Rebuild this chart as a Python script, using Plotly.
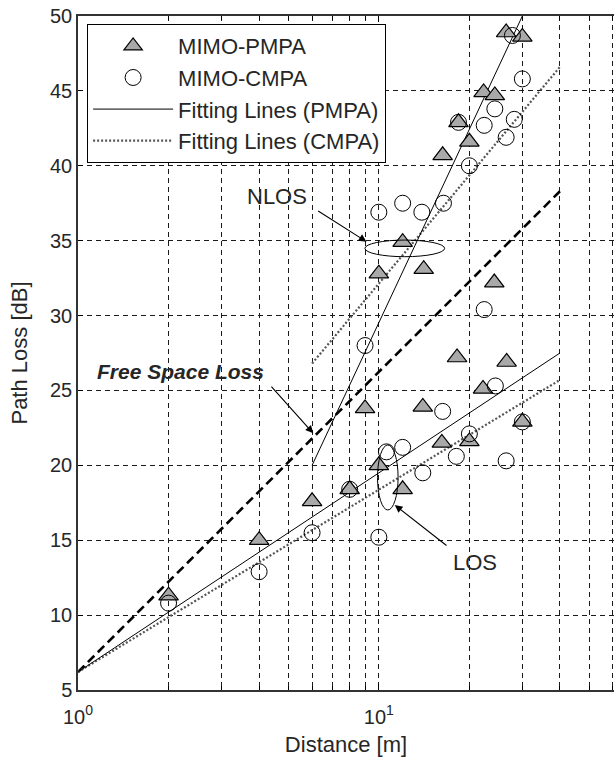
import plotly.graph_objects as go
import math

# ---------------- data ----------------
pmpa_d = [2, 4, 6, 8, 9, 10, 12, 14, 16.2, 20, 30,
          10, 12, 14.1, 16.3, 18.4, 20, 22.3, 24.3, 26.5, 30, 24.2, 18.2, 26.6, 22.2]
pmpa_pl = [11.3, 15.0, 17.6, 18.4, 23.8, 20.0, 18.4, 23.9, 21.5, 21.6, 22.9,
           32.8, 34.9, 33.1, 40.7, 42.9, 41.6, 44.9, 44.7, 48.9, 48.6, 32.2, 27.2, 26.9, 25.1]

cmpa_d = [2, 4, 6, 8, 10, 10.6, 12, 14, 16.3, 18.1, 20, 26.5, 30,
          9, 10, 12, 13.9, 16.4, 18.4, 20, 22.4, 24.3, 26.5, 28.2, 30, 27.8, 22.4, 24.4]
cmpa_pl = [10.8, 12.9, 15.5, 18.4, 15.2, 20.9, 21.2, 19.5, 23.6, 20.6, 22.1, 20.3, 22.9,
           28.0, 36.9, 37.5, 36.9, 37.5, 42.9, 40.0, 42.7, 43.8, 41.9, 43.1, 45.8, 48.7, 30.4, 25.3]

# fitting lines: LOS segment, then NLOS segment
fit_pmpa_d = [1, 40, None, 6, 30]
fit_pmpa_pl = [6.2, 27.5, None, 20.0, 50.0]
fit_cmpa_d = [1, 40, None, 6, 40]
fit_cmpa_pl = [6.2, 25.7, None, 26.8, 46.6]

fsl_d = [1, 40]
fsl_pl = [6.2, 38.3]

x_tickvals = [1, 10]
x_ticktext = ["10<sup>0</sup>", "10<sup>1</sup>"]
x_minor = [2, 3, 4, 5, 6, 7, 8, 9, 20, 30, 40, 50, 60]
y_tickvals = [5, 10, 15, 20, 25, 30, 35, 40, 45, 50]

FONT = "Liberation Sans, Arial, Helvetica, sans-serif"
TXT = "#262626"

fig = go.Figure()

fig.add_trace(go.Scatter(x=fsl_d, y=fsl_pl, mode="lines", showlegend=False,
                         line=dict(color="black", width=2.6, dash="9px,5px")))
fig.add_trace(go.Scatter(x=fit_cmpa_d, y=fit_cmpa_pl, mode="lines", name="Fitting Lines (CMPA)",
                         legendrank=4,
                         line=dict(color="#555555", width=2.2, dash="2px,2px")))
fig.add_trace(go.Scatter(x=fit_pmpa_d, y=fit_pmpa_pl, mode="lines", name="Fitting Lines (PMPA)",
                         legendrank=3,
                         line=dict(color="black", width=1)))
fig.add_trace(go.Scatter(x=pmpa_d, y=pmpa_pl, mode="markers", name="MIMO-PMPA",
                         legendrank=1,
                         marker=dict(symbol="triangle-up", size=17, color="#a9a9a9",
                                     line=dict(color="black", width=1.2))))
fig.add_trace(go.Scatter(x=cmpa_d, y=cmpa_pl, mode="markers", name="MIMO-CMPA",
                         legendrank=2,
                         marker=dict(symbol="circle-open", size=16, color="black",
                                     line=dict(color="black", width=1))))

L = math.log10
arrow = dict(showarrow=True, arrowhead=2, arrowsize=1.4, arrowwidth=1.1, arrowcolor="black",
             standoff=0, text="", axref="x", ayref="y")
fig.add_annotation(x=0.959, y=34.93, ax=0.7934, ay=37.04, **arrow)
fig.add_annotation(x=1.053, y=17.35, ax=1.2299, ay=14.57, **arrow)
fig.add_annotation(x=0.782, y=22.14, ax=0.6385, ay=25.36, **arrow)
fig.add_annotation(x=0.6627, y=37.93, text="NLOS", showarrow=False,
                   font=dict(family=FONT, size=22, color=TXT))
fig.add_annotation(x=1.3207, y=13.5, text="LOS", showarrow=False,
                   font=dict(family=FONT, size=22, color=TXT))
fig.add_annotation(x=0.34, y=26.25, text="<b><i>Free Space Loss</i></b>", showarrow=False,
                   font=dict(family=FONT, size=21, color=TXT))

fig.add_shape(type="circle", xref="x", yref="y", x0=8.99, x1=16.55, y0=33.93, y1=35.04,
              line=dict(color="black", width=1))
fig.add_shape(type="circle", xref="x", yref="y", x0=9.90, x1=11.59, y0=17.02, y1=21.36,
              line=dict(color="black", width=1))

grid = dict(showgrid=True, gridcolor="#1a1a1a", gridwidth=1, griddash="5px,4px")

fig.update_xaxes(type="log", range=[0, L(60.5)], tickmode="array", tickvals=x_tickvals,
                 ticktext=x_ticktext, ticks="inside", ticklen=6, tickcolor="black",
                 showline=True, linecolor="#333333", linewidth=1.5, mirror="allticks",
                 zeroline=False, ticklabelstandoff=8,
                 tickfont=dict(family=FONT, size=20, color=TXT),
                 title=dict(text="Distance [m]", font=dict(family=FONT, size=22, color=TXT), standoff=10),
                 minor=dict(tickvals=x_minor, ticks="inside", ticklen=4, tickcolor="black",
                            showgrid=True, gridcolor="#1a1a1a", gridwidth=1, griddash="5px,4px"),
                 **grid)
fig.update_yaxes(range=[5, 50], tickmode="array", tickvals=y_tickvals,
                 ticks="inside", ticklen=5, tickcolor="black",
                 showline=True, linecolor="#333333", linewidth=1.5, mirror=False,
                 zeroline=False,
                 tickfont=dict(family=FONT, size=20, color=TXT),
                 title=dict(text="Path Loss [dB]", font=dict(family=FONT, size=22, color=TXT), standoff=16),
                 **grid)

fig.update_layout(
    width=614, height=760,
    margin=dict(l=78, r=0, t=16, b=70),
    paper_bgcolor="white", plot_bgcolor="white",
    font=dict(family=FONT, color=TXT),
    legend=dict(x=0.017, y=0.988, xanchor="left", yanchor="top",
                traceorder="normal",
                bgcolor="white", bordercolor="black", borderwidth=1,
                font=dict(family=FONT, size=22, color=TXT), itemwidth=80),
)

fig.write_html("out.html")
